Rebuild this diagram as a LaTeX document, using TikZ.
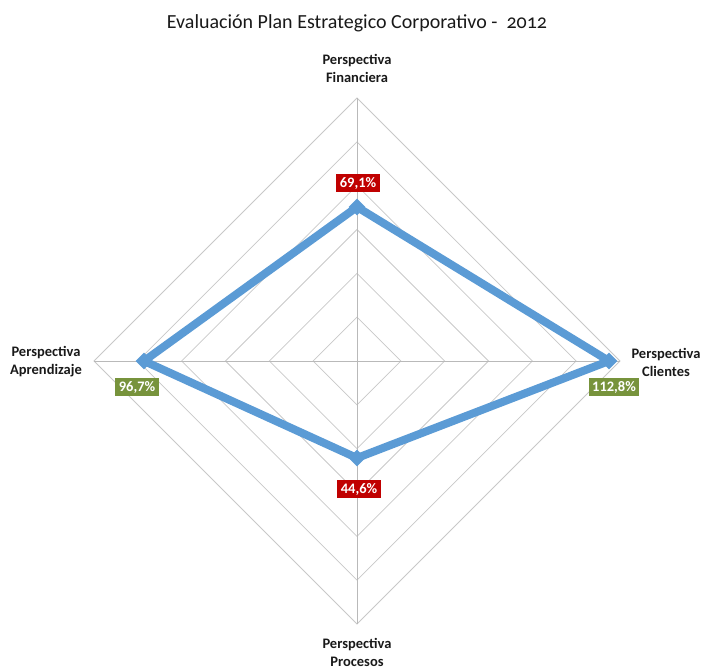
\documentclass[tikz,border=0pt]{standalone}
\usepackage{fontspec}
\setmainfont{Carlito}
\newfontfamily\titlefont[Numbers=OldStyle]{Carlito}
\usetikzlibrary{shapes.geometric}
\definecolor{serieblue}{RGB}{91,155,213}
\definecolor{lowred}{RGB}{192,0,0}
\definecolor{highgreen}{RGB}{119,147,60}
\definecolor{gridgrey}{RGB}{200,200,200}
\definecolor{axisgrey}{RGB}{185,185,185}
\tikzstyle{axislabel}=[align=center, font=\bfseries\fontsize{14.5}{18}\selectfont, text=black!90]
\tikzstyle{redvalue}=[rectangle, fill=lowred, text=white, font=\bfseries\fontsize{14.5}{16}\selectfont, inner xsep=3.5pt, inner ysep=3pt]
\tikzstyle{greenvalue}=[rectangle, fill=highgreen, text=white, font=\bfseries\fontsize{14.5}{16}\selectfont, inner xsep=3.5pt, inner ysep=3pt]
\tikzstyle{marker}=[diamond, fill=serieblue, inner sep=0pt, minimum size=17pt]
\begin{document}
\begin{tikzpicture}[x=1pt,y=-1pt]
\useasboundingbox (0,0) rectangle (702,669);

\node[font=\titlefont\fontsize{20}{24}\selectfont, text=black!90] (title) at (357,23) {Evaluación Plan Estrategico Corporativo -\ \ 2012};

\coordinate (c) at (357,361);
\coordinate (af) at (357,98);
\coordinate (ac) at (620,361);
\coordinate (ap) at (357,624);
\coordinate (aa) at (94,361);

% rings
\foreach \r in {1,...,6}
  \draw[gridgrey, line width=0.8pt] (357,361-43.83*\r) -- (357+43.83*\r,361) -- (357,361+43.83*\r) -- (357-43.83*\r,361) -- cycle;

\draw[axisgrey, line width=1pt] (c) -- (af);
\draw[axisgrey, line width=1pt] (c) -- (ac);
\draw[axisgrey, line width=1pt] (c) -- (ap);
\draw[axisgrey, line width=1pt] (c) -- (aa);

\node[axislabel] (lf) at (357,68) {Perspectiva\\Financiera};
\node[axislabel] (lc) at (666,362) {Perspectiva\\Clientes};
\node[axislabel] (lp) at (357,652) {Perspectiva\\Procesos};
\node[axislabel] (la) at (46,362) {Perspectiva\\Aprendizaje};

% serie
\coordinate (pf) at (357,207);
\coordinate (pc) at (609,361);
\coordinate (pp) at (357,458);
\coordinate (pa) at (144,361);
\draw[serieblue, line width=8pt, line join=round] (pf) -- (pc) -- (pp) -- (pa) -- cycle;
\node[marker] (mf) at (pf) {};
\node[marker] (mc) at (pc) {};
\node[marker] (mp) at (pp) {};
\node[marker] (ma) at (pa) {};

\node[redvalue] (vf) at (358,183) {69,1\%};
\node[greenvalue] (vc) at (614,387) {112,8\%};
\node[redvalue] (vp) at (359,489) {44,6\%};
\node[greenvalue] (va) at (137,387) {96,7\%};

\end{tikzpicture}
\end{document}
